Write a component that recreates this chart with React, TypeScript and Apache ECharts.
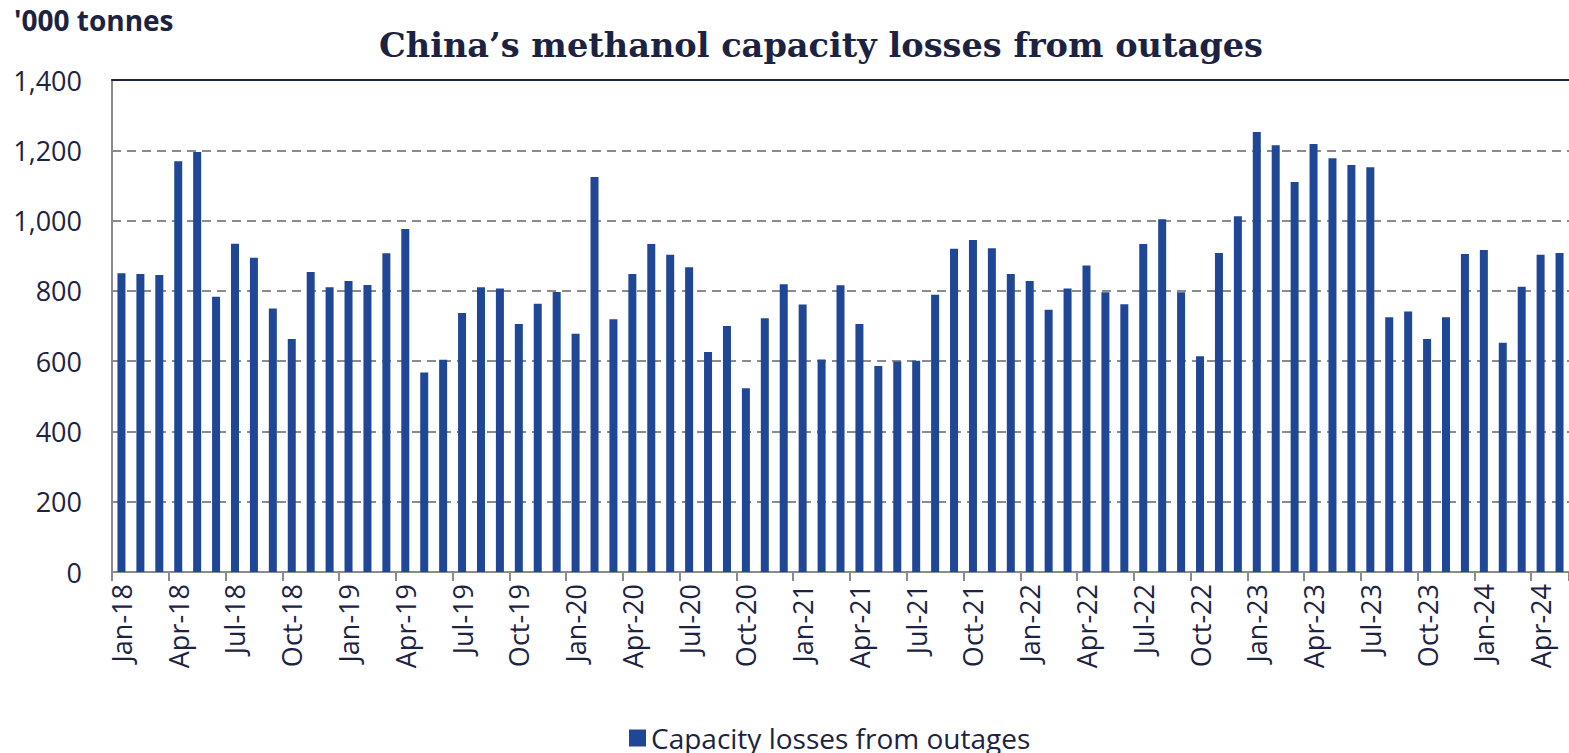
import React, { useEffect, useRef } from "react";
import * as echarts from "echarts";

const MONTHS = ["Jan", "Feb", "Mar", "Apr", "May", "Jun", "Jul", "Aug", "Sep", "Oct", "Nov", "Dec"];
const YEARS = ["18", "19", "20", "21", "22", "23", "24"];
const MONTH_COUNT = 77;

const categories: string[] = [];
YEARS.forEach((y) => MONTHS.forEach((m) => categories.push(`${m}-${y}`)));
const CATEGORIES = categories.slice(0, MONTH_COUNT);

const capacityLosses = [
  850, 848, 845, 1169, 1195, 783, 934, 894, 750, 663, 854, 810,
  828, 817, 907, 976, 568, 604, 737, 810, 807, 706, 763, 797,
  678, 1124, 719, 848, 933, 903, 867, 626, 700, 523, 722, 819,
  761, 605, 816, 706, 586, 599, 601, 789, 920, 945, 921, 848,
  828, 746, 807, 872, 796, 762, 933, 1004, 796, 614, 908, 1012,
  1252, 1214, 1110, 1218, 1177, 1158, 1152, 725, 741, 663, 725, 905,
  916, 652, 812, 903, 908,
];

const TITLE = "China\u2019s methanol capacity losses from outages";
const UNIT = "'000 tonnes";
const SERIES_NAME = "Capacity losses from outages";
const Y_TICKS = [0, 200, 400, 600, 800, 1000, 1200, 1400];

const NAVY = "#1c2342";
const BAR = "#1f4796";
const GRAY = "#8a8b8f";

export default function App() {
  const ref = useRef<HTMLDivElement>(null);
  useEffect(() => {
    document.body.style.margin = "0";
    if (!ref.current) return;
    const chart = echarts.init(ref.current, null, { renderer: "svg" });
    chart.setOption({
      animation: false,
      backgroundColor: "#ffffff",
      textStyle: { fontFamily: "Open Sans" },
      title: {
        text: TITLE,
        left: 374,
        top: 23,
        textStyle: {
          fontFamily: "DejaVu Serif",
          fontWeight: "bold",
          fontSize: 33.6,
          color: NAVY,
        },
      },
      graphic: [
        {
          type: "text",
          left: 14,
          top: 6,
          style: {
            text: UNIT,
            font: "bold 28px 'Open Sans'",
            fill: NAVY,
          },
        },
      ],
      legend: {
        data: [SERIES_NAME],
        left: 624,
        top: 719,
        icon: "rect",
        itemWidth: 17,
        itemHeight: 17,
        itemGap: 8,
        textStyle: { fontSize: 28, color: NAVY, fontFamily: "Open Sans" },
      },
      grid: { left: 112, right: 0, top: 80, bottom: 181, containLabel: false },
      xAxis: [
        {
          type: "category",
          data: CATEGORIES,
          boundaryGap: true,
          axisLine: { show: true, lineStyle: { color: GRAY, width: 2 } },
          axisTick: { show: true, interval: 2, length: 9, lineStyle: { color: GRAY, width: 2 } },
          axisLabel: {
            interval: 2,
            rotate: 90,
            margin: 12,
            fontSize: 27,
            color: NAVY,
            fontFamily: "Open Sans",
          },
          splitLine: { show: false },
        },
        {
          type: "category",
          data: CATEGORIES,
          position: "top",
          axisLine: { show: true, lineStyle: { color: NAVY, width: 2 } },
          axisTick: { show: false },
          axisLabel: { show: false },
        },
      ],
      yAxis: {
        type: "value",
        min: 0,
        max: Y_TICKS[Y_TICKS.length - 1],
        interval: Y_TICKS[1] - Y_TICKS[0],
        axisLine: { show: true, lineStyle: { color: GRAY, width: 2 } },
        axisTick: { show: false },
        axisLabel: {
          margin: 30,
          fontSize: 27,
          color: NAVY,
          fontFamily: "Open Sans",
          formatter: (v: number) => v.toLocaleString("en-US"),
        },
        splitLine: {
          show: true,
          lineStyle: { color: GRAY, type: [9, 6], width: 2 },
        },
      },
      series: [
        {
          name: SERIES_NAME,
          type: "bar",
          data: capacityLosses,
          barWidth: 8,
          itemStyle: { color: BAR },
          xAxisIndex: 0,
        },
      ],
    });
    return () => chart.dispose();
  }, []);
  return <div ref={ref} style={{ width: 1569, height: 753 }} />;
}
